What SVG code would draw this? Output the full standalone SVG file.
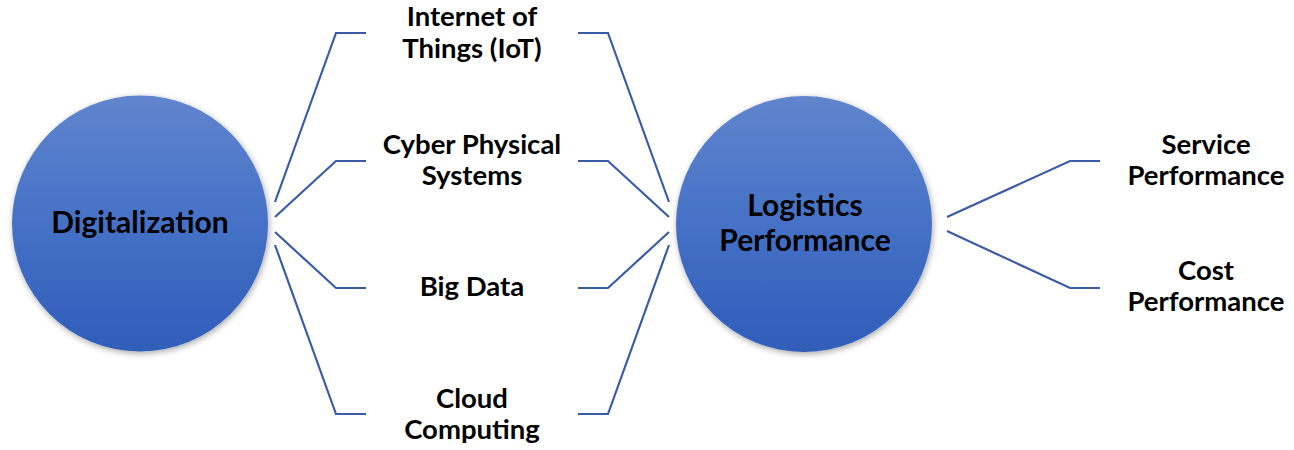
<svg xmlns="http://www.w3.org/2000/svg" width="1294" height="450" viewBox="0 0 1294 450">
<defs>
<linearGradient id="g" x1="0" y1="0" x2="0" y2="1">
<stop offset="0" stop-color="#6085cd"/>
<stop offset="0.5" stop-color="#4571c6"/>
<stop offset="1" stop-color="#2f5db8"/>
</linearGradient>
<filter id="sh" x="-20%" y="-20%" width="140%" height="140%">
<feDropShadow dx="1" dy="2" stdDeviation="3" flood-color="#000" flood-opacity="0.35"/>
</filter>
</defs>
<style>
.c{fill:url(#g);filter:url(#sh)}
.t{font-family:Lato,"Liberation Sans",sans-serif;font-weight:bold;font-size:27.5px;fill:#000;text-anchor:middle}
.b{font-size:30px}
.l{fill:none;stroke:#3a5ca6;stroke-width:2.2}
</style>
<g id="connectors">
<polyline class="l" points="275,202 336,33 366,33"/>
<polyline class="l" points="275,217 336,161 366,161"/>
<polyline class="l" points="275,232 336,288 366,288"/>
<polyline class="l" points="275,245 336,414 366,414"/>
<polyline class="l" points="578,33 608,33 669,202"/>
<polyline class="l" points="578,161 608,161 669,217"/>
<polyline class="l" points="578,288 608,288 669,232"/>
<polyline class="l" points="578,414 608,414 669,245"/>
<polyline class="l" points="947,217 1070,161 1100,161"/>
<polyline class="l" points="947,231 1070,288 1100,288"/>
</g>
<g id="digitalization">
<circle class="c" cx="140" cy="223.5" r="128"/>
<text class="t b" x="140" y="233">Digitalization</text>
</g>
<g id="logistics">
<circle class="c" cx="804" cy="224" r="128"/>
<text class="t b" x="805" y="216">Logistics</text>
<text class="t b" x="805" y="251">Performance</text>
</g>
<g id="iot">
<text class="t" x="472" y="26">Internet of</text>
<text class="t" x="472" y="58">Things (IoT)</text>
</g>
<g id="cps">
<text class="t" x="472" y="154">Cyber Physical</text>
<text class="t" x="472" y="185">Systems</text>
</g>
<g id="bigdata">
<text class="t" x="472" y="296">Big Data</text>
</g>
<g id="cloud">
<text class="t" x="472" y="408">Cloud</text>
<text class="t" x="472" y="439">Computing</text>
</g>
<g id="service">
<text class="t" x="1206" y="154">Service</text>
<text class="t" x="1206" y="185">Performance</text>
</g>
<g id="cost">
<text class="t" x="1206" y="280">Cost</text>
<text class="t" x="1206" y="311">Performance</text>
</g>
</svg>
